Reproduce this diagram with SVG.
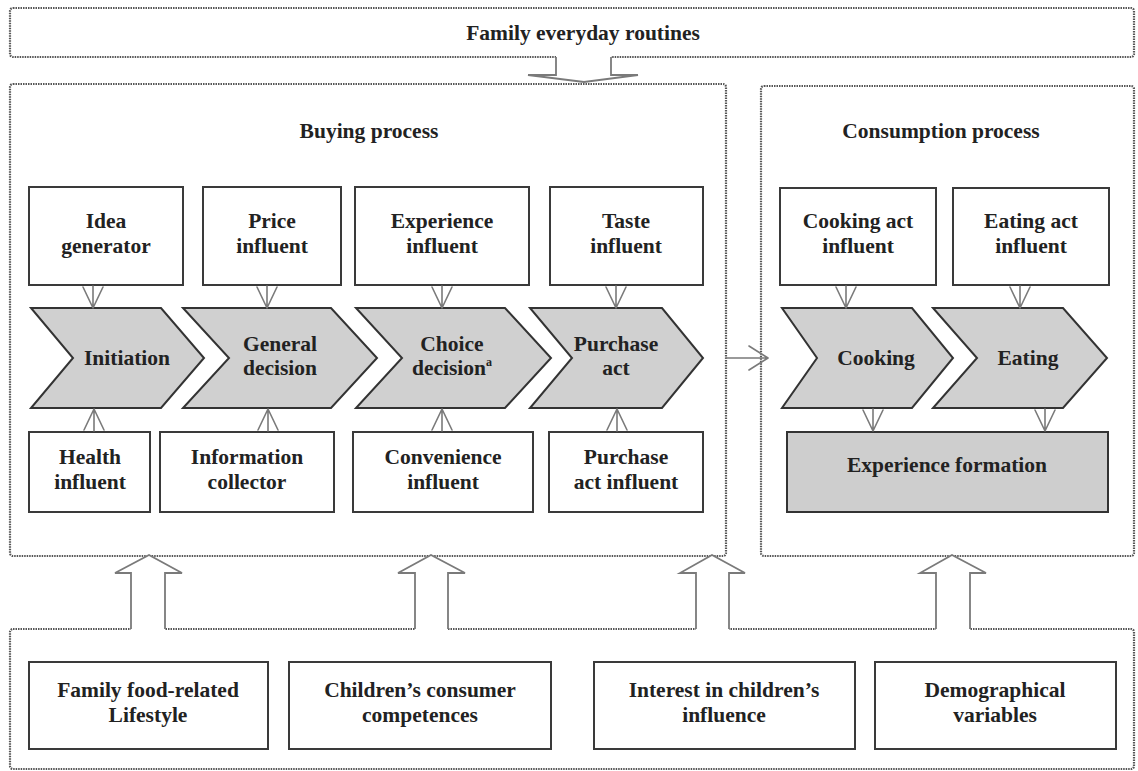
<svg xmlns="http://www.w3.org/2000/svg" width="1138" height="771" viewBox="0 0 1138 771">
  <defs>
    <style>
      .frame { fill: none; stroke: #555; stroke-width: 2.2; stroke-dasharray: 1.5 1; }
      .box { fill: #fff; stroke: #3a3a3a; stroke-width: 2; }
      .step { fill: #d0d0d0; stroke: #333; stroke-width: 2; stroke-linejoin: miter; }
      .outcome { fill: #cecece; stroke: #333; stroke-width: 2; }
      .lbl { font-family: "Liberation Serif", "Times New Roman", serif; font-weight: bold; font-size: 21.5px; fill: #222; text-anchor: middle; }
      .link { fill: none; stroke: #7a7a7a; stroke-width: 1.6; stroke-linecap: round; stroke-linejoin: round; }
      .big { fill: #fff; stroke: none; }
      .bigedge { fill: none; stroke: #7a7a7a; stroke-width: 1.8; stroke-linejoin: miter; }
    </style>
  </defs>
  <rect width="1138" height="771" fill="#fff"/>

  <!-- outer frames -->
  <g id="routines">
    <rect class="frame" x="10" y="8" width="1124" height="49" rx="3"/>
    <text class="lbl" x="583" y="40">Family everyday routines</text>
  </g>
  <g id="buying-process">
    <rect class="frame" x="10" y="84" width="716" height="472" rx="3"/>
    <text class="lbl" x="369" y="138">Buying process</text>
  </g>
  <g id="consumption-process">
    <rect class="frame" x="761" y="86" width="373" height="470" rx="3"/>
    <text class="lbl" x="941" y="138">Consumption process</text>
  </g>
  <g id="background-factors">
    <rect class="frame" x="10" y="629" width="1124" height="140" rx="3"/>
  </g>

  <!-- influencer roles, top row -->
  <g id="idea-generator">
    <rect class="box" x="29" y="187" width="154" height="98"/>
    <text class="lbl" x="106" y="228">Idea</text>
    <text class="lbl" x="106" y="253">generator</text>
  </g>
  <g id="price-influent">
    <rect class="box" x="203" y="187" width="138" height="98"/>
    <text class="lbl" x="272" y="228">Price</text>
    <text class="lbl" x="272" y="253">influent</text>
  </g>
  <g id="experience-influent">
    <rect class="box" x="355" y="187" width="174" height="98"/>
    <text class="lbl" x="442" y="228">Experience</text>
    <text class="lbl" x="442" y="253">influent</text>
  </g>
  <g id="taste-influent">
    <rect class="box" x="550" y="187" width="153" height="98"/>
    <text class="lbl" x="626" y="228">Taste</text>
    <text class="lbl" x="626" y="253">influent</text>
  </g>
  <g id="cooking-act-influent">
    <rect class="box" x="780" y="188" width="156" height="97"/>
    <text class="lbl" x="858" y="228">Cooking act</text>
    <text class="lbl" x="858" y="253">influent</text>
  </g>
  <g id="eating-act-influent">
    <rect class="box" x="953" y="188" width="156" height="97"/>
    <text class="lbl" x="1031" y="228">Eating act</text>
    <text class="lbl" x="1031" y="253">influent</text>
  </g>

  <!-- process stages -->
  <g id="initiation">
    <polygon class="step" points="31,308 161,308 204,358 161,408 31,408 73,358"/>
    <text class="lbl" x="127" y="365">Initiation</text>
  </g>
  <g id="general-decision">
    <polygon class="step" points="183,308 331,308 377,358 331,408 183,408 229,358"/>
    <text class="lbl" x="280" y="351">General</text>
    <text class="lbl" x="280" y="375">decision</text>
  </g>
  <g id="choice-decision">
    <polygon class="step" points="356,308 505,308 551,358 505,408 356,408 402,358"/>
    <text class="lbl" x="452" y="351">Choice</text>
    <text class="lbl" x="452" y="375">decision<tspan font-size="12" dy="-9">a</tspan></text>
  </g>
  <g id="purchase-act">
    <polygon class="step" points="530,308 662,308 703,358 662,408 530,408 572,358"/>
    <text class="lbl" x="616" y="351">Purchase</text>
    <text class="lbl" x="616" y="375">act</text>
  </g>
  <g id="cooking">
    <polygon class="step" points="782,308 912,308 953,358 912,408 782,408 817,358"/>
    <text class="lbl" x="876" y="365">Cooking</text>
  </g>
  <g id="eating">
    <polygon class="step" points="933,308 1063,308 1107,358 1063,408 933,408 977,358"/>
    <text class="lbl" x="1028" y="365">Eating</text>
  </g>

  <!-- influencer roles, bottom row -->
  <g id="health-influent">
    <rect class="box" x="29" y="432" width="121" height="80"/>
    <text class="lbl" x="90" y="464">Health</text>
    <text class="lbl" x="90" y="489">influent</text>
  </g>
  <g id="information-collector">
    <rect class="box" x="160" y="432" width="174" height="80"/>
    <text class="lbl" x="247" y="464">Information</text>
    <text class="lbl" x="247" y="489">collector</text>
  </g>
  <g id="convenience-influent">
    <rect class="box" x="353" y="432" width="180" height="80"/>
    <text class="lbl" x="443" y="464">Convenience</text>
    <text class="lbl" x="443" y="489">influent</text>
  </g>
  <g id="purchase-act-influent">
    <rect class="box" x="549" y="432" width="154" height="80"/>
    <text class="lbl" x="626" y="464">Purchase</text>
    <text class="lbl" x="626" y="489">act influent</text>
  </g>
  <g id="experience-formation">
    <rect class="outcome" x="787" y="432" width="321" height="80"/>
    <text class="lbl" x="947" y="472">Experience formation</text>
  </g>

  <!-- background factors -->
  <g id="family-lifestyle">
    <rect class="box" x="29" y="662" width="239" height="87"/>
    <text class="lbl" x="148" y="697">Family food-related</text>
    <text class="lbl" x="148" y="722">Lifestyle</text>
  </g>
  <g id="consumer-competences">
    <rect class="box" x="289" y="662" width="262" height="87"/>
    <text class="lbl" x="420" y="697">Children’s consumer</text>
    <text class="lbl" x="420" y="722">competences</text>
  </g>
  <g id="interest-in-influence">
    <rect class="box" x="594" y="662" width="261" height="87"/>
    <text class="lbl" x="724" y="697">Interest in children’s</text>
    <text class="lbl" x="724" y="722">influence</text>
  </g>
  <g id="demographics">
    <rect class="box" x="875" y="662" width="241" height="87"/>
    <text class="lbl" x="995" y="697">Demographical</text>
    <text class="lbl" x="995" y="722">variables</text>
  </g>

  <!-- connectors -->
  <g id="connectors">
    <!-- routines feed into buying process -->
    <polygon class="big" points="556,55 611,55 611,75 638,75 584,82 528,75 556,75"/>
    <path class="bigedge" d="M556,57 V75 H528 L584,82 L638,75 H611 V57"/>

    <!-- background factors push upward -->
    <polygon class="big" points="131,631 131,573 115,573 149,555 182,573 165,573 165,631"/>
    <path class="bigedge" d="M131,629 V573 H115 L149,555 L182,573 H165 V629"/>
    <polygon class="big" points="415,631 415,573 398,573 431,555 465,573 448,573 448,631"/>
    <path class="bigedge" d="M415,629 V573 H398 L431,555 L465,573 H448 V629"/>
    <polygon class="big" points="696,631 696,573 680,573 712,555 745,573 729,573 729,631"/>
    <path class="bigedge" d="M696,629 V573 H680 L712,555 L745,573 H729 V629"/>
    <polygon class="big" points="936,631 936,573 920,573 952,555 986,573 970,573 970,631"/>
    <path class="bigedge" d="M936,629 V573 H920 L952,555 L986,573 H970 V629"/>

    <!-- roles into stages (downward) -->
    <path class="link" d="M93,286 V308 M83,287 L93,308 L103,287"/>
    <path class="link" d="M267,286 V308 M257,287 L267,308 L277,287"/>
    <path class="link" d="M442,286 V308 M432,287 L442,308 L452,287"/>
    <path class="link" d="M616,286 V308 M606,287 L616,308 L626,287"/>
    <path class="link" d="M846,286 V308 M836,287 L846,308 L856,287"/>
    <path class="link" d="M1020,286 V308 M1010,287 L1020,308 L1030,287"/>

    <!-- roles into stages (upward) -->
    <path class="link" d="M94,431 V409 M84,430 L94,409 L104,430"/>
    <path class="link" d="M268,431 V409 M258,430 L268,409 L278,430"/>
    <path class="link" d="M442,431 V409 M432,430 L442,409 L452,430"/>
    <path class="link" d="M617,431 V409 M607,430 L617,409 L627,430"/>

    <!-- stages into experience formation -->
    <path class="link" d="M873,409 V431 M863,410 L873,431 L883,410"/>
    <path class="link" d="M1045,409 V431 M1035,410 L1045,431 L1055,410"/>

    <!-- buying leads to consumption -->
    <path class="link" d="M726,358 H768 M749,346 L768,358 L749,370"/>
  </g>
</svg>
